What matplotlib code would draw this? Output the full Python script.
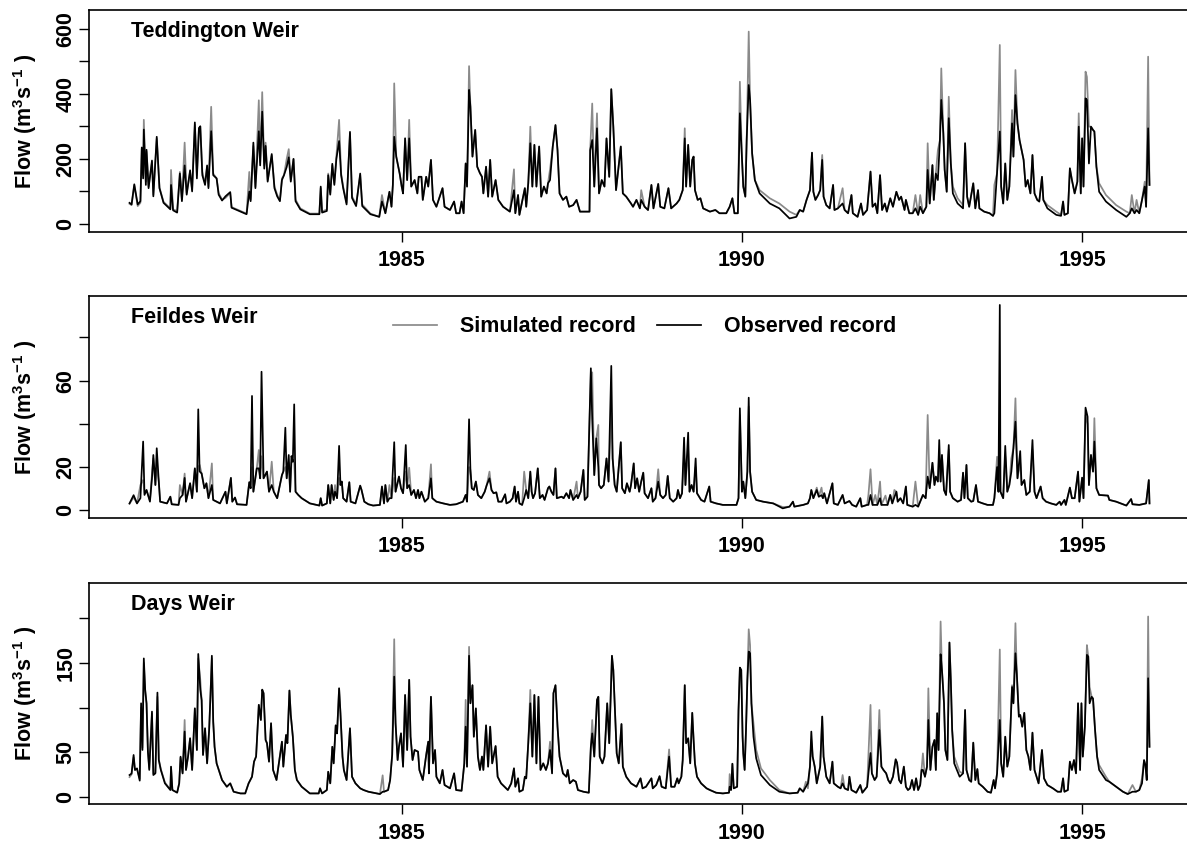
import matplotlib
matplotlib.use("Agg")
import matplotlib.pyplot as plt
import numpy as np

plt.rcParams["font.family"] = "Liberation Sans"
plt.rcParams["font.weight"] = "bold"
plt.rcParams["mathtext.fontset"] = "custom"
plt.rcParams["mathtext.rm"] = "Liberation Sans:bold"
plt.rcParams["mathtext.it"] = "Liberation Sans:bold"
plt.rcParams["mathtext.bf"] = "Liberation Sans:bold"
plt.rcParams["mathtext.default"] = "bf"

# rows: (decimal year, observed flow, simulated flow)
teddington = [
    (1981.00, 65, 62), (1981.03, 60, 58), (1981.07, 122, 118), (1981.12, 60, 55),
    (1981.16, 70, 65), (1981.18, 235, 230), (1981.20, 140, 150), (1981.21, 290, 320),
    (1981.24, 120, 130), (1981.25, 228, 222), (1981.28, 110, 115), (1981.33, 195, 190),
    (1981.35, 85, 90), (1981.40, 268, 262), (1981.44, 110, 112), (1981.50, 65, 68),
    (1981.60, 45, 48), (1981.61, 120, 166), (1981.64, 42, 45), (1981.70, 35, 40),
    (1981.74, 155, 160), (1981.77, 70, 75), (1981.81, 180, 250), (1981.84, 90, 95),
    (1981.89, 165, 160), (1981.92, 100, 105), (1981.96, 312, 305), (1981.99, 140, 150),
    (1982.02, 295, 290), (1982.04, 300, 300), (1982.07, 150, 160), (1982.11, 120, 125),
    (1982.14, 180, 175), (1982.16, 110, 115), (1982.20, 285, 360), (1982.23, 150, 155),
    (1982.28, 140, 140), (1982.31, 90, 95), (1982.36, 72, 75), (1982.41, 85, 80),
    (1982.48, 98, 95), (1982.50, 50, 52), (1982.63, 38, 40), (1982.72, 30, 32),
    (1982.76, 100, 160), (1982.78, 70, 75), (1982.82, 250, 240), (1982.85, 110, 115),
    (1982.90, 285, 380), (1982.92, 180, 190), (1982.95, 345, 405), (1982.98, 170, 180),
    (1983.00, 240, 250), (1983.03, 130, 135), (1983.09, 215, 210), (1983.13, 110, 115),
    (1983.17, 85, 90), (1983.21, 70, 72), (1983.24, 135, 140), (1983.27, 150, 150),
    (1983.31, 175, 200), (1983.34, 205, 230), (1983.37, 130, 135), (1983.41, 200, 200),
    (1983.44, 70, 75), (1983.51, 45, 48), (1983.65, 30, 32), (1983.79, 30, 32),
    (1983.81, 115, 110), (1983.83, 35, 38), (1983.90, 40, 45), (1983.92, 150, 155),
    (1983.95, 90, 95), (1983.98, 185, 180), (1984.01, 120, 125), (1984.04, 200, 210),
    (1984.08, 255, 320), (1984.11, 150, 155), (1984.14, 110, 115), (1984.19, 60, 65),
    (1984.24, 283, 278), (1984.27, 80, 85), (1984.33, 55, 60), (1984.39, 155, 150),
    (1984.42, 55, 60), (1984.54, 30, 32), (1984.67, 22, 22), (1984.71, 69, 89),
    (1984.76, 33, 33), (1984.82, 99, 99), (1984.85, 53, 53), (1984.87, 120, 120),
    (1984.89, 268, 432), (1984.92, 207, 207), (1984.95, 176, 176), (1984.97, 155, 155),
    (1985.00, 115, 115), (1985.02, 94, 94), (1985.05, 263, 263), (1985.08, 135, 135),
    (1985.11, 263, 320), (1985.14, 115, 115), (1985.19, 135, 135), (1985.23, 94, 94),
    (1985.25, 145, 145), (1985.29, 145, 145), (1985.31, 74, 74), (1985.36, 145, 145),
    (1985.39, 115, 115), (1985.43, 197, 197), (1985.46, 74, 74), (1985.51, 53, 53),
    (1985.60, 110, 110), (1985.63, 53, 53), (1985.71, 43, 43), (1985.77, 69, 69),
    (1985.80, 33, 33), (1985.85, 33, 33), (1985.88, 69, 69), (1985.91, 33, 33),
    (1985.94, 186, 186), (1985.96, 115, 115), (1985.99, 412, 485), (1986.01, 360, 360),
    (1986.04, 207, 207), (1986.08, 289, 289), (1986.11, 176, 176), (1986.15, 156, 156),
    (1986.18, 145, 145), (1986.20, 94, 94), (1986.24, 176, 176), (1986.27, 84, 84),
    (1986.30, 197, 197), (1986.33, 84, 84), (1986.38, 135, 135), (1986.42, 74, 74),
    (1986.49, 53, 53), (1986.59, 38, 38), (1986.65, 104, 168), (1986.67, 33, 33),
    (1986.71, 89, 89), (1986.73, 28, 28), (1986.81, 110, 110), (1986.83, 53, 53),
    (1986.86, 125, 125), (1986.89, 248, 299), (1986.92, 115, 115), (1986.95, 243, 243),
    (1986.98, 115, 115), (1987.02, 238, 238), (1987.05, 84, 84), (1987.09, 115, 115),
    (1987.13, 94, 94), (1987.15, 125, 125), (1987.18, 135, 168), (1987.22, 238, 238),
    (1987.26, 304, 304), (1987.29, 227, 227), (1987.32, 94, 94), (1987.37, 74, 74),
    (1987.42, 84, 84), (1987.46, 53, 53), (1987.52, 58, 58), (1987.57, 74, 74),
    (1987.62, 38, 38), (1987.76, 38, 38), (1987.77, 227, 227), (1987.80, 258, 370),
    (1987.83, 115, 115), (1987.87, 294, 340), (1987.90, 94, 94), (1987.94, 135, 135),
    (1987.98, 115, 115), (1988.01, 263, 263), (1988.05, 145, 145), (1988.08, 414, 414),
    (1988.11, 299, 299), (1988.15, 104, 104), (1988.22, 238, 238), (1988.25, 94, 94),
    (1988.30, 84, 84), (1988.37, 63, 63), (1988.40, 53, 53), (1988.45, 74, 74),
    (1988.50, 48, 48), (1988.52, 74, 104), (1988.57, 53, 53), (1988.62, 43, 43),
    (1988.67, 120, 120), (1988.70, 48, 48), (1988.77, 123, 123), (1988.80, 53, 53),
    (1988.86, 48, 48), (1988.92, 110, 110), (1988.96, 48, 48), (1989.04, 63, 63),
    (1989.08, 74, 74), (1989.13, 104, 104), (1989.16, 263, 294), (1989.18, 115, 115),
    (1989.21, 243, 243), (1989.24, 115, 115), (1989.27, 197, 197), (1989.29, 207, 207),
    (1989.31, 104, 104), (1989.35, 74, 74), (1989.39, 79, 79), (1989.43, 48, 48),
    (1989.53, 38, 38), (1989.61, 43, 43), (1989.67, 33, 33), (1989.77, 33, 33),
    (1989.82, 53, 53), (1989.86, 79, 79), (1989.89, 33, 33), (1989.94, 33, 33),
    (1989.97, 340, 437), (1990.00, 207, 207), (1990.02, 115, 115), (1990.05, 84, 84),
    (1990.07, 258, 258), (1990.10, 427, 591), (1990.12, 381, 381), (1990.15, 217, 217),
    (1990.19, 135, 135), (1990.26, 94, 104), (1990.41, 63, 79), (1990.55, 48, 63),
    (1990.70, 17, 38), (1990.80, 22, 28), (1990.85, 43, 43), (1990.90, 38, 38),
    (1990.95, 74, 74), (1991.00, 104, 104), (1991.03, 219, 219), (1991.05, 99, 99),
    (1991.08, 74, 74), (1991.12, 89, 89), (1991.15, 104, 104), (1991.18, 197, 212),
    (1991.20, 84, 84), (1991.24, 58, 58), (1991.29, 48, 48), (1991.34, 120, 120),
    (1991.36, 43, 43), (1991.41, 48, 48), (1991.48, 63, 110), (1991.51, 43, 43),
    (1991.56, 33, 33), (1991.61, 89, 89), (1991.63, 33, 33), (1991.70, 22, 22),
    (1991.75, 63, 63), (1991.78, 28, 28), (1991.84, 43, 43), (1991.89, 161, 161),
    (1991.92, 53, 53), (1991.96, 63, 63), (1991.99, 33, 33), (1992.03, 150, 150),
    (1992.06, 43, 43), (1992.10, 63, 63), (1992.13, 38, 38), (1992.18, 79, 79),
    (1992.22, 53, 53), (1992.27, 99, 99), (1992.31, 74, 74), (1992.34, 84, 84),
    (1992.39, 43, 43), (1992.41, 74, 74), (1992.46, 33, 33), (1992.51, 33, 33),
    (1992.55, 48, 89), (1992.59, 28, 28), (1992.62, 53, 89), (1992.66, 33, 33),
    (1992.71, 53, 53), (1992.73, 166, 248), (1992.76, 63, 63), (1992.80, 181, 181),
    (1992.82, 74, 74), (1992.85, 155, 155), (1992.88, 135, 227), (1992.91, 258, 258),
    (1992.93, 381, 478), (1992.96, 279, 279), (1992.98, 166, 166), (1993.01, 99, 99),
    (1993.04, 325, 391), (1993.07, 186, 186), (1993.10, 94, 115), (1993.17, 63, 79),
    (1993.25, 48, 58), (1993.28, 248, 248), (1993.31, 84, 84), (1993.34, 53, 53),
    (1993.40, 125, 125), (1993.43, 48, 48), (1993.47, 104, 104), (1993.49, 48, 48),
    (1993.56, 38, 38), (1993.64, 33, 33), (1993.69, 25, 25), (1993.71, 33, 120),
    (1993.75, 156, 156), (1993.79, 284, 550), (1993.81, 115, 115), (1993.84, 63, 63),
    (1993.87, 186, 186), (1993.90, 74, 74), (1993.93, 115, 115), (1993.97, 309, 350),
    (1993.99, 207, 207), (1994.02, 396, 473), (1994.05, 309, 309), (1994.08, 258, 258),
    (1994.10, 238, 238), (1994.14, 197, 197), (1994.17, 115, 115), (1994.20, 135, 135),
    (1994.24, 94, 94), (1994.27, 212, 212), (1994.30, 94, 94), (1994.34, 74, 74),
    (1994.37, 69, 69), (1994.41, 145, 145), (1994.43, 74, 74), (1994.49, 48, 58),
    (1994.62, 28, 38), (1994.69, 25, 28), (1994.72, 69, 69), (1994.74, 28, 28),
    (1994.79, 33, 33), (1994.82, 171, 171), (1994.85, 135, 135), (1994.89, 94, 94),
    (1994.93, 130, 130), (1994.95, 299, 340), (1994.98, 94, 94), (1995.00, 263, 263),
    (1995.02, 115, 115), (1995.05, 386, 468), (1995.07, 381, 452), (1995.10, 186, 299),
    (1995.13, 299, 299), (1995.16, 289, 289), (1995.18, 284, 284), (1995.21, 176, 176),
    (1995.25, 99, 125), (1995.35, 69, 89), (1995.50, 43, 58), (1995.65, 22, 38),
    (1995.70, 33, 33), (1995.73, 48, 89), (1995.77, 33, 33), (1995.80, 43, 74),
    (1995.84, 33, 33), (1995.88, 74, 74), (1995.92, 115, 130), (1995.94, 53, 53),
    (1995.97, 294, 514), (1995.99, 120, 120),
]

feildes = [
    (1981.00, 3.2, 3.0), (1981.06, 7.0, 6.0), (1981.11, 3.2, 3.2), (1981.16, 5.6, 11.7),
    (1981.20, 31.8, 14), (1981.22, 7.1, 8), (1981.25, 9.4, 9.4), (1981.30, 4.0, 4.5),
    (1981.33, 14.8, 17), (1981.35, 25.6, 24), (1981.38, 11.7, 11.7), (1981.40, 28.7, 20),
    (1981.43, 13.3, 13.3), (1981.45, 4.0, 4.0), (1981.55, 3.2, 3.2), (1981.60, 6.3, 6.3),
    (1981.62, 2.8, 2.8), (1981.72, 2.5, 2.5), (1981.74, 5.6, 11.7), (1981.78, 7.1, 7.1),
    (1981.81, 15, 17), (1981.83, 4.0, 4.0), (1981.89, 12.5, 12.5), (1981.92, 5.6, 5.6),
    (1981.96, 19.4, 19.4), (1981.99, 8.6, 8.6), (1982.01, 46.7, 20), (1982.03, 18, 21),
    (1982.06, 17, 17), (1982.10, 10.2, 10.2), (1982.13, 12.5, 12.5), (1982.16, 5.6, 5.6),
    (1982.21, 11.7, 21.7), (1982.23, 4.8, 4.8), (1982.33, 3.2, 3.2), (1982.41, 8.6, 8.6),
    (1982.43, 3.2, 3.2), (1982.49, 15, 15), (1982.51, 4.0, 4.0), (1982.55, 5.9, 5.9),
    (1982.58, 2.8, 2.8), (1982.72, 2.5, 2.5), (1982.76, 13, 13), (1982.78, 10.2, 10.2),
    (1982.80, 52.9, 20), (1982.82, 8.6, 8.6), (1982.87, 19.4, 19.4), (1982.90, 19.4, 27.9),
    (1982.92, 14.8, 14.8), (1982.94, 64.1, 25), (1982.97, 14.8, 14.8), (1983.02, 17.9, 17.9),
    (1983.05, 8.6, 8.6), (1983.09, 11.7, 22.5), (1983.12, 8.6, 8.6), (1983.17, 5.6, 5.6),
    (1983.24, 16.3, 16.3), (1983.26, 17.9, 17.9), (1983.29, 38.2, 20), (1983.31, 14.8, 14.8),
    (1983.34, 25.6, 22), (1983.36, 8.6, 8.6), (1983.38, 25.1, 22), (1983.40, 22.5, 22.5),
    (1983.42, 49, 22), (1983.44, 8.6, 8.6), (1983.48, 7.1, 7.1), (1983.53, 5.6, 5.6),
    (1983.65, 3.2, 3.2), (1983.79, 2.2, 2.2), (1983.81, 5.6, 5.6), (1983.83, 2.2, 2.2),
    (1983.90, 3.2, 3.2), (1983.92, 11.7, 11.7), (1983.95, 3.2, 3.2), (1983.97, 11.7, 11.7),
    (1984.00, 4.8, 4.8), (1984.02, 8.6, 11.7), (1984.05, 5.6, 5.6), (1984.08, 29.8, 15),
    (1984.10, 11.7, 11.7), (1984.12, 13.3, 13.3), (1984.14, 5.6, 5.6), (1984.19, 4.0, 4.0),
    (1984.23, 13, 13), (1984.25, 4.0, 4.0), (1984.32, 3.2, 3.2), (1984.39, 11.4, 11.4),
    (1984.41, 9.4, 9.4), (1984.45, 4.0, 4.0), (1984.51, 2.8, 2.8), (1984.58, 2.2, 2.2),
    (1984.68, 2.5, 2.5), (1984.71, 11, 11), (1984.74, 3.2, 3.2), (1984.76, 11.7, 11.7),
    (1984.79, 4.0, 4.0), (1984.82, 5.6, 11.7), (1984.85, 5.6, 5.6), (1984.89, 31.5, 15),
    (1984.91, 8.6, 8.6), (1984.96, 15.6, 15.6), (1984.99, 10.2, 10.2), (1985.02, 7.9, 7.9),
    (1985.06, 30.2, 18), (1985.08, 10.2, 10.2), (1985.11, 11.7, 19.7), (1985.14, 7.1, 7.1),
    (1985.18, 9.4, 9.4), (1985.21, 5.6, 5.6), (1985.24, 9.4, 9.4), (1985.26, 5.6, 5.6),
    (1985.29, 8.6, 8.6), (1985.34, 4.0, 4.0), (1985.39, 5.6, 5.6), (1985.43, 14.8, 21.3),
    (1985.45, 5.6, 5.6), (1985.51, 4.0, 4.0), (1985.61, 3.2, 3.2), (1985.71, 2.5, 2.5),
    (1985.80, 2.8, 2.8), (1985.90, 4.0, 4.0), (1985.94, 7.1, 7.1), (1985.96, 4.0, 4.0),
    (1985.99, 42.1, 20), (1986.01, 18.7, 18.7), (1986.03, 10.2, 10.2), (1986.06, 9.4, 9.4),
    (1986.09, 13.3, 13.3), (1986.12, 7.1, 7.1), (1986.17, 5.6, 5.6), (1986.22, 8.6, 8.6),
    (1986.25, 11.7, 11.7), (1986.29, 14.8, 17.9), (1986.32, 9.4, 9.4), (1986.35, 7.9, 7.9),
    (1986.39, 8.3, 8.3), (1986.42, 4.0, 4.0), (1986.47, 4.0, 4.0), (1986.52, 7.4, 7.4),
    (1986.54, 3.2, 3.2), (1986.59, 4.0, 4.0), (1986.63, 5.6, 5.6), (1986.66, 11, 11),
    (1986.68, 4.0, 4.0), (1986.71, 8.6, 8.6), (1986.73, 3.2, 3.2), (1986.77, 2.5, 2.5),
    (1986.80, 5.6, 17.9), (1986.83, 9.4, 9.4), (1986.86, 5.6, 5.6), (1986.89, 17.9, 17.9),
    (1986.91, 8.6, 8.6), (1986.93, 5.6, 5.6), (1986.96, 7.9, 7.9), (1987.00, 19.4, 19.4),
    (1987.03, 5.6, 5.6), (1987.07, 7.1, 7.1), (1987.10, 4.8, 4.8), (1987.15, 10.2, 10.2),
    (1987.17, 11, 11), (1987.20, 8.6, 8.6), (1987.23, 7.1, 7.1), (1987.26, 19.4, 19.4),
    (1987.28, 5.6, 5.6), (1987.35, 6.3, 6.3), (1987.38, 5.6, 5.6), (1987.42, 7.9, 7.9),
    (1987.46, 5.6, 5.6), (1987.48, 9.4, 9.4), (1987.52, 4.8, 4.8), (1987.57, 7.1, 13.3),
    (1987.59, 5.6, 5.6), (1987.63, 8.6, 8.6), (1987.67, 18.7, 18.7), (1987.69, 4.8, 4.8),
    (1987.73, 6.3, 6.3), (1987.78, 65.7, 63.8), (1987.80, 42.1, 63.8), (1987.83, 16.3, 16.3),
    (1987.86, 33.3, 33.3), (1987.89, 20, 39.5), (1987.90, 11.7, 11.7), (1987.93, 10.2, 10.2),
    (1987.97, 11.7, 11.7), (1988.01, 24, 24), (1988.04, 13.3, 13.3), (1988.08, 66.8, 45),
    (1988.10, 24, 24), (1988.13, 11.7, 11.7), (1988.16, 8.6, 8.6), (1988.22, 31.5, 31.5),
    (1988.24, 10.2, 10.2), (1988.28, 7.9, 7.9), (1988.31, 12.5, 12.5), (1988.35, 8.6, 8.6),
    (1988.37, 11.7, 11.7), (1988.41, 21.7, 21.7), (1988.43, 10.2, 10.2), (1988.46, 14.8, 14.8),
    (1988.49, 8.6, 8.6), (1988.52, 13.3, 13.3), (1988.55, 17.4, 17.4), (1988.57, 7.9, 7.9),
    (1988.62, 5.6, 5.6), (1988.67, 10.2, 10.2), (1988.69, 4.0, 4.0), (1988.73, 5.6, 5.6),
    (1988.77, 13.3, 19), (1988.80, 7.1, 7.1), (1988.84, 5.6, 5.6), (1988.88, 7.1, 7.1),
    (1988.91, 15.9, 15.9), (1988.94, 5.6, 5.6), (1988.99, 4.0, 4.0), (1989.04, 5.6, 5.6),
    (1989.06, 9.4, 9.4), (1989.09, 5.6, 5.6), (1989.12, 7.9, 7.9), (1989.15, 33.6, 25),
    (1989.17, 11.7, 11.7), (1989.21, 35.9, 28), (1989.23, 8.6, 8.6), (1989.26, 11.7, 11.7),
    (1989.29, 8.6, 8.6), (1989.32, 24, 20), (1989.34, 7.9, 7.9), (1989.40, 4.8, 4.8),
    (1989.45, 4.0, 4.0), (1989.52, 11, 11), (1989.54, 4.0, 4.0), (1989.62, 3.2, 3.2),
    (1989.72, 2.5, 2.5), (1989.82, 2.5, 2.5), (1989.92, 2.5, 2.5), (1989.95, 5.6, 5.6),
    (1989.97, 47.2, 44), (1990.00, 8.6, 8.6), (1990.02, 13.3, 13.3), (1990.05, 5.6, 5.6),
    (1990.08, 17.9, 17.9), (1990.10, 52.1, 48), (1990.12, 17.9, 17.9), (1990.15, 8.6, 8.6),
    (1990.21, 4.8, 4.8), (1990.31, 4.0, 4.0), (1990.46, 3.2, 3.2), (1990.60, 0.9, 1.5),
    (1990.70, 1.7, 1.7), (1990.75, 4.0, 4.0), (1990.77, 1.7, 1.7), (1990.90, 2.5, 2.5),
    (1990.97, 3.2, 3.2), (1991.00, 5.6, 5.6), (1991.02, 9.4, 9.4), (1991.05, 5.6, 5.6),
    (1991.10, 9.4, 10.5), (1991.13, 6.3, 6.3), (1991.17, 7.0, 10.5), (1991.19, 5.6, 5.6),
    (1991.21, 7.9, 7.9), (1991.25, 3.2, 3.2), (1991.33, 12.5, 12.5), (1991.35, 3.2, 3.2),
    (1991.41, 2.5, 2.5), (1991.48, 7.1, 7.1), (1991.51, 3.2, 3.2), (1991.58, 4.3, 4.3),
    (1991.62, 2.5, 2.5), (1991.68, 1.7, 1.7), (1991.74, 5.6, 5.6), (1991.76, 1.7, 1.7),
    (1991.84, 2.5, 2.5), (1991.86, 2.5, 7.4), (1991.89, 7.1, 19), (1991.92, 2.5, 2.5),
    (1991.96, 2.5, 7.1), (1991.99, 2.5, 2.5), (1992.03, 5.6, 13.3), (1992.05, 2.5, 2.5),
    (1992.11, 2.5, 6.8), (1992.14, 2.5, 2.5), (1992.18, 7.1, 7.1), (1992.21, 3.2, 3.2),
    (1992.24, 6, 9.4), (1992.27, 8.6, 8.6), (1992.29, 4.0, 4.0), (1992.33, 5.6, 5.6),
    (1992.37, 3.2, 3.2), (1992.41, 11, 11), (1992.43, 2.5, 2.5), (1992.51, 1.7, 1.7),
    (1992.55, 2.5, 13.3), (1992.59, 1.7, 1.7), (1992.62, 4.0, 4.0), (1992.66, 7.1, 7.1),
    (1992.70, 5.6, 5.6), (1992.73, 15.6, 44.1), (1992.76, 10.2, 10.2), (1992.80, 22, 22),
    (1992.83, 11.7, 11.7), (1992.85, 15.6, 15.6), (1992.88, 13.3, 13.3), (1992.90, 32.5, 26),
    (1992.92, 13.3, 13.3), (1992.94, 25.6, 25.6), (1992.97, 9.4, 9.4), (1993.00, 7.1, 7.1),
    (1993.04, 30.2, 28), (1993.06, 8.6, 8.6), (1993.10, 5.6, 5.6), (1993.17, 4.0, 4.0),
    (1993.22, 4.8, 4.8), (1993.25, 17.4, 17.4), (1993.27, 5.6, 5.6), (1993.30, 21, 21),
    (1993.32, 5.6, 5.6), (1993.37, 4.0, 4.0), (1993.40, 4.3, 4.3), (1993.44, 11.7, 11.7),
    (1993.47, 4.0, 4.0), (1993.54, 3.2, 3.2), (1993.61, 2.5, 2.5), (1993.69, 2.5, 2.5),
    (1993.71, 5.6, 5.6), (1993.75, 20, 24.8), (1993.77, 8.6, 8.6), (1993.79, 95, 24),
    (1993.80, 8.6, 8.6), (1993.84, 5.6, 5.6), (1993.87, 29.8, 25), (1993.90, 8.6, 8.6),
    (1993.93, 11.7, 11.7), (1993.96, 17.9, 24), (1993.99, 28.7, 28.7), (1994.02, 41, 51.8),
    (1994.05, 14.8, 14.8), (1994.09, 27.4, 22), (1994.11, 11.7, 11.7), (1994.15, 14, 14),
    (1994.18, 7.1, 7.1), (1994.23, 8.6, 8.6), (1994.27, 32.5, 28), (1994.30, 8.6, 8.6),
    (1994.33, 5.6, 5.6), (1994.39, 11, 11), (1994.42, 5.6, 5.6), (1994.47, 4.0, 4.0),
    (1994.54, 3.2, 3.2), (1994.62, 2.5, 2.5), (1994.67, 4.0, 4.0), (1994.69, 2.5, 2.5),
    (1994.74, 4.8, 4.8), (1994.76, 2.5, 2.5), (1994.82, 10.5, 10.5), (1994.85, 5.6, 5.6),
    (1994.89, 5.6, 5.6), (1994.94, 17.9, 17.9), (1994.96, 4.0, 4.0), (1995.00, 15.1, 15.1),
    (1995.02, 5.6, 5.6), (1995.05, 47.5, 44), (1995.08, 43.3, 40), (1995.10, 11.7, 11.7),
    (1995.13, 25.6, 25.6), (1995.16, 17.9, 17.9), (1995.18, 31.8, 42.6), (1995.21, 10.2, 10.2),
    (1995.25, 7.1, 7.1), (1995.38, 6.8, 6.8), (1995.40, 4.8, 4.8), (1995.50, 4.0, 4.0),
    (1995.65, 2.2, 2.2), (1995.72, 5.2, 5.2), (1995.74, 2.8, 2.8), (1995.84, 2.5, 2.5),
    (1995.94, 3.2, 3.2), (1995.98, 14, 14), (1995.99, 3.2, 3.2),
]

days = [
    (1981.00, 24.3, 22), (1981.03, 26, 25), (1981.06, 46.8, 44), (1981.08, 30, 30),
    (1981.11, 31.8, 31), (1981.15, 18, 20), (1981.17, 104.7, 100), (1981.19, 52.4, 55),
    (1981.21, 155, 150), (1981.23, 120, 118), (1981.25, 104.7, 104), (1981.27, 50.5, 52),
    (1981.29, 30, 32), (1981.33, 95.4, 93), (1981.35, 24.3, 26), (1981.38, 26.2, 27),
    (1981.41, 116.7, 112), (1981.43, 41.1, 42), (1981.46, 30, 31), (1981.52, 15, 16),
    (1981.60, 7.5, 8), (1981.61, 33.7, 33), (1981.63, 7.5, 7.5), (1981.70, 4.5, 5),
    (1981.73, 15, 15), (1981.75, 44.9, 44), (1981.78, 26.2, 26), (1981.81, 73, 86),
    (1981.83, 30, 30), (1981.86, 45, 45), (1981.89, 65.5, 65.5), (1981.92, 30, 30),
    (1981.96, 99, 99), (1981.99, 52.4, 52.4), (1982.01, 160, 155), (1982.04, 120, 131),
    (1982.06, 108, 108), (1982.08, 46.8, 46.8), (1982.11, 76.7, 76.7), (1982.14, 37.4, 37.4),
    (1982.17, 74.8, 74.8), (1982.19, 114, 114), (1982.21, 158, 155), (1982.23, 84, 84),
    (1982.25, 56, 56), (1982.28, 37.4, 37.4), (1982.36, 18.7, 18.7), (1982.43, 11.2, 11.2),
    (1982.48, 15, 15), (1982.53, 5.6, 5.6), (1982.63, 3.7, 3.7), (1982.70, 3.7, 3.7),
    (1982.75, 15, 15), (1982.80, 22.4, 22.4), (1982.83, 39.3, 39.3), (1982.86, 45, 45),
    (1982.90, 103, 103), (1982.93, 86, 86), (1982.95, 120, 120), (1982.97, 116, 116),
    (1983.00, 63.6, 63.6), (1983.02, 60, 60), (1983.05, 39.3, 39.3), (1983.08, 82.3, 82.3),
    (1983.11, 30, 30), (1983.16, 18.7, 18.7), (1983.24, 61.7, 61.7), (1983.26, 33.7, 33.7),
    (1983.30, 69.2, 69.2), (1983.32, 60, 60), (1983.35, 119, 119), (1983.37, 91.6, 91.6),
    (1983.40, 67.3, 67.3), (1983.43, 30, 30), (1983.46, 18.7, 18.7), (1983.53, 11.2, 11.2),
    (1983.65, 3.7, 3.7), (1983.78, 3.7, 3.7), (1983.80, 9.4, 9.4), (1983.83, 3.7, 3.7),
    (1983.90, 7.5, 7.5), (1983.92, 28, 28), (1983.95, 15, 15), (1983.98, 56, 56),
    (1984.00, 37.4, 37.4), (1984.03, 80, 80), (1984.05, 71, 71), (1984.08, 121.5, 121.5),
    (1984.10, 93.5, 93.5), (1984.13, 45, 45), (1984.15, 30, 30), (1984.19, 18.7, 18.7),
    (1984.24, 76.7, 76.7), (1984.27, 22.4, 22.4), (1984.32, 15, 15), (1984.39, 9.4, 9.4),
    (1984.44, 7.5, 7.5), (1984.51, 5.6, 5.6), (1984.68, 3.0, 3.0), (1984.72, 5.6, 24),
    (1984.74, 5.6, 5.6), (1984.80, 7.5, 7.5), (1984.83, 18.7, 18.7), (1984.86, 46.8, 46.8),
    (1984.89, 134.6, 176.5), (1984.91, 82.3, 82.3), (1984.94, 41.1, 41.1), (1984.96, 56, 56),
    (1984.99, 71, 71), (1985.02, 33.7, 33.7), (1985.05, 114, 114), (1985.08, 52.4, 52.4),
    (1985.11, 131, 131), (1985.13, 67.3, 67.3), (1985.16, 41.1, 41.1), (1985.19, 52.4, 52.4),
    (1985.24, 50.5, 50.5), (1985.26, 30, 30), (1985.31, 18.7, 18.7), (1985.36, 46.8, 46.8),
    (1985.39, 61.7, 61.7), (1985.40, 26.2, 26.2), (1985.43, 112, 112), (1985.46, 37.4, 37.4),
    (1985.49, 52.4, 52.4), (1985.51, 22.4, 22.4), (1985.56, 15, 15), (1985.60, 30, 30),
    (1985.63, 13.1, 13.1), (1985.71, 9.4, 9.4), (1985.77, 26.2, 26.2), (1985.80, 7.5, 7.5),
    (1985.88, 6.7, 6.7), (1985.92, 37.4, 37.4), (1985.94, 78.5, 108.5), (1985.96, 33.7, 33.7),
    (1985.99, 158, 168), (1986.01, 104.7, 104.7), (1986.04, 125, 125), (1986.06, 67.3, 67.3),
    (1986.09, 99, 99), (1986.12, 45, 45), (1986.15, 30, 30), (1986.18, 45, 45),
    (1986.20, 30, 30), (1986.24, 80, 80), (1986.27, 33.7, 33.7), (1986.30, 78.5, 78.5),
    (1986.33, 37.4, 37.4), (1986.38, 56.8, 56.8), (1986.41, 22.4, 22.4), (1986.46, 15, 15),
    (1986.56, 7.5, 7.5), (1986.61, 15, 15), (1986.65, 31.8, 31.8), (1986.67, 11.2, 11.2),
    (1986.71, 20.6, 20.6), (1986.73, 5.6, 5.6), (1986.78, 7.5, 7.5), (1986.81, 22.4, 22.4),
    (1986.83, 20.6, 20.6), (1986.86, 60, 60), (1986.89, 104.7, 119.7), (1986.92, 45, 45),
    (1986.95, 114, 114), (1986.98, 37.4, 37.4), (1987.01, 112, 112), (1987.04, 30, 30),
    (1987.08, 37.4, 37.4), (1987.12, 30, 30), (1987.15, 37.4, 37.4), (1987.18, 52.4, 61.7),
    (1987.21, 26.2, 26.2), (1987.23, 116, 116), (1987.26, 125, 125), (1987.29, 78.5, 78.5),
    (1987.32, 45, 45), (1987.37, 26.2, 26.2), (1987.42, 22.4, 22.4), (1987.44, 30, 30),
    (1987.47, 15, 15), (1987.52, 18.7, 18.7), (1987.56, 16.8, 16.8), (1987.59, 7.5, 7.5),
    (1987.67, 5.6, 5.6), (1987.75, 4.5, 4.5), (1987.78, 56, 56), (1987.80, 71, 86),
    (1987.83, 45, 45), (1987.87, 108.5, 108.5), (1987.89, 112, 112), (1987.91, 45, 45),
    (1987.95, 37.4, 37.4), (1987.98, 45, 45), (1988.02, 104.7, 104.7), (1988.05, 60, 60),
    (1988.09, 158, 158), (1988.11, 142, 142), (1988.14, 86, 86), (1988.16, 48.6, 48.6),
    (1988.19, 37.4, 37.4), (1988.23, 81.5, 81.5), (1988.25, 33.7, 33.7), (1988.30, 22.4, 22.4),
    (1988.37, 15, 15), (1988.45, 11.2, 11.2), (1988.51, 20.6, 20.6), (1988.54, 9.4, 9.4),
    (1988.59, 11.2, 11.2), (1988.67, 20.6, 20.6), (1988.69, 9.4, 9.4), (1988.74, 13.1, 13.1),
    (1988.79, 23, 23), (1988.82, 11.2, 11.2), (1988.88, 9.4, 9.4), (1988.93, 45, 53),
    (1988.96, 11.2, 11.2), (1989.01, 11.2, 11.2), (1989.05, 20.6, 20.6), (1989.07, 15, 15),
    (1989.11, 22.4, 22.4), (1989.13, 41.1, 41.1), (1989.16, 125, 125), (1989.18, 60, 60),
    (1989.21, 65.5, 65.5), (1989.24, 37.4, 37.4), (1989.27, 94, 94), (1989.29, 63.6, 63.6),
    (1989.31, 37, 37), (1989.34, 22.4, 22.4), (1989.40, 15, 15), (1989.48, 9.4, 9.4),
    (1989.53, 7.5, 7.5), (1989.62, 4.5, 4.5), (1989.72, 3.7, 3.7), (1989.81, 4.5, 4.5),
    (1989.82, 11.2, 25.4), (1989.84, 7.5, 7.5), (1989.86, 37, 37), (1989.88, 9.4, 9.4),
    (1989.93, 11.2, 11.2), (1989.95, 97, 97), (1989.97, 144.7, 144.7), (1989.99, 142, 142),
    (1990.01, 67.3, 67.3), (1990.02, 48.6, 48.6), (1990.04, 30, 30), (1990.06, 74.8, 74.8),
    (1990.08, 131, 131), (1990.10, 162.7, 187.7), (1990.12, 160.8, 170), (1990.14, 104.7, 104.7),
    (1990.17, 67.3, 82.3), (1990.21, 43, 52.4), (1990.28, 24.3, 31.8), (1990.41, 13.1, 18.7),
    (1990.55, 5.6, 7.5), (1990.70, 3.7, 3.7), (1990.82, 4.5, 4.5), (1990.85, 9.4, 9.4),
    (1990.90, 5.6, 5.6), (1990.94, 11.2, 16.8), (1990.97, 15, 9.4), (1991.00, 33.7, 33.7),
    (1991.02, 73, 63.6), (1991.04, 45, 45), (1991.07, 33.7, 33.7), (1991.10, 15, 15),
    (1991.13, 26.2, 26.2), (1991.15, 33.7, 33.7), (1991.18, 89.8, 89.8), (1991.20, 45, 45),
    (1991.24, 22.4, 22.4), (1991.29, 15, 15), (1991.33, 39.3, 39.3), (1991.35, 15, 15),
    (1991.41, 11.2, 11.2), (1991.45, 9.4, 9.4), (1991.48, 15, 24.3), (1991.51, 9.4, 9.4),
    (1991.56, 7.5, 7.5), (1991.58, 22.4, 22.4), (1991.61, 7.5, 7.5), (1991.68, 4.5, 4.5),
    (1991.74, 13.1, 13.1), (1991.77, 4.5, 4.5), (1991.84, 11.2, 11.2), (1991.89, 49, 102.9),
    (1991.91, 26.2, 26.2), (1991.95, 18.7, 18.7), (1991.98, 22.4, 22.4), (1992.02, 74.8, 97.2),
    (1992.05, 33.7, 33.7), (1992.08, 30, 30), (1992.12, 26.2, 26.2), (1992.15, 18.7, 18.7),
    (1992.18, 15, 15), (1992.22, 22.4, 22.4), (1992.26, 41.9, 41.9), (1992.28, 38, 38),
    (1992.31, 18.7, 18.7), (1992.34, 15, 15), (1992.38, 33.7, 33.7), (1992.41, 11.2, 11.2),
    (1992.44, 7.5, 7.5), (1992.47, 9.4, 9.4), (1992.50, 18.7, 18.7), (1992.53, 7.5, 7.5),
    (1992.56, 20.6, 20.6), (1992.59, 7.5, 7.5), (1992.62, 13.1, 13.1), (1992.64, 30, 30),
    (1992.66, 30, 48.6), (1992.69, 22.4, 22.4), (1992.72, 33.7, 33.7), (1992.74, 86, 121.5),
    (1992.77, 30, 30), (1992.80, 56, 56), (1992.83, 63.6, 63.6), (1992.85, 30, 30),
    (1992.87, 93.5, 93.5), (1992.89, 52.4, 52.4), (1992.92, 159.7, 196.4), (1992.94, 142, 142),
    (1992.97, 104.7, 104.7), (1992.99, 52.4, 52.4), (1993.02, 41.1, 41.1), (1993.05, 172.8, 172.8),
    (1993.07, 131, 131), (1993.09, 74.8, 74.8), (1993.12, 37.4, 45), (1993.20, 22.4, 28),
    (1993.25, 26.2, 26.2), (1993.28, 97.2, 97.2), (1993.30, 30, 30), (1993.34, 18.7, 18.7),
    (1993.37, 16.8, 16.8), (1993.40, 60.6, 60.6), (1993.43, 18.7, 18.7), (1993.46, 31, 31),
    (1993.48, 15, 15), (1993.54, 11.2, 11.2), (1993.61, 5.6, 5.6), (1993.66, 4.5, 4.5),
    (1993.70, 18.7, 18.7), (1993.72, 9.4, 9.4), (1993.75, 26.2, 26.2), (1993.79, 86, 165),
    (1993.81, 37.4, 37.4), (1993.84, 22.4, 22.4), (1993.87, 67.3, 67.3), (1993.90, 33.7, 33.7),
    (1993.93, 45, 45), (1993.97, 123, 125), (1993.99, 104.7, 104.7), (1994.02, 160.8, 194.5),
    (1994.04, 138, 138), (1994.07, 89.8, 89.8), (1994.09, 91.6, 91.6), (1994.12, 78.5, 78.5),
    (1994.15, 94, 94), (1994.18, 52.4, 52.4), (1994.21, 45, 45), (1994.24, 30, 30),
    (1994.27, 71.8, 71.8), (1994.30, 30, 30), (1994.33, 22.4, 22.4), (1994.36, 15, 15),
    (1994.41, 52.4, 52.4), (1994.44, 20.6, 20.6), (1994.49, 13.1, 13.1), (1994.57, 9.4, 9.4),
    (1994.64, 5.6, 5.6), (1994.69, 5.6, 5.6), (1994.72, 20.6, 20.6), (1994.74, 5.6, 5.6),
    (1994.79, 7.5, 7.5), (1994.82, 39.3, 39.3), (1994.85, 30, 30), (1994.88, 41.1, 41.1),
    (1994.91, 26.2, 26.2), (1994.94, 104.7, 104.7), (1994.97, 30, 30), (1994.99, 104.7, 104.7),
    (1995.01, 45, 45), (1995.04, 78.5, 78.5), (1995.07, 159, 170), (1995.09, 157, 157),
    (1995.11, 104.7, 123), (1995.14, 112, 112), (1995.16, 110, 110), (1995.19, 74.8, 74.8),
    (1995.22, 45, 45), (1995.25, 30, 35.5), (1995.35, 18.7, 22.4), (1995.40, 16.8, 16.8),
    (1995.50, 11.2, 11.2), (1995.60, 5.6, 5.6), (1995.67, 3.0, 3.0), (1995.74, 5.6, 13.1),
    (1995.79, 5.6, 5.6), (1995.84, 7.5, 7.5), (1995.88, 15, 20.6), (1995.91, 41, 41),
    (1995.93, 35.5, 35.5), (1995.95, 18.7, 18.7), (1995.97, 132.8, 202), (1995.99, 56, 56),
]

stations = ["Teddington Weir", "Feildes Weir", "Days Weir"]
records = [teddington, feildes, days]
y_ticks = [[0, 100, 200, 300, 400, 500, 600], [0, 20, 40, 60, 80], [0, 50, 100, 150, 200]]
y_tick_labels = [["0", "", "200", "", "400", "", "600"],
                 ["0", "20", "", "60", ""],
                 ["0", "50", "", "150", ""]]
y_limits = [(-24.6, 657.4), (-3.42, 99.0), (-8.5, 239.9)]
x_ticks = [1985, 1990, 1995]
legend_labels = ["Simulated record", "Observed record"]
y_label = r"$\mathbf{Flow\ (m^{3}s^{-1}\ )}$"

W, H = 1187, 850
fig = plt.figure(figsize=(W / 100, H / 100), dpi=100)

# panel boxes in pixels: (top, bottom)
boxes = [(10, 232), (296.3, 517.7), (582.7, 804.3)]
left_px, right_px = 88.7, 1191

axes = []
for i, (top, bottom) in enumerate(boxes):
    ax = fig.add_axes([left_px / W, 1 - bottom / H, (right_px - left_px) / W, (bottom - top) / H])
    t, obs, sim = np.array(records[i], dtype=float).T
    ax.plot(t, sim, color="#8a8a8a", lw=1.25, label=legend_labels[0])
    ax.plot(t, obs, color="black", lw=1.25, label=legend_labels[1])
    ax.set_xlim(1980.4, 1996.6)
    ax.set_ylim(*y_limits[i])
    ax.set_xticks(x_ticks)
    ax.set_xticklabels([str(x) for x in x_ticks])
    ax.set_yticks(y_ticks[i])
    ax.set_yticklabels(y_tick_labels[i])
    for side in ax.spines.values():
        side.set_linewidth(1.2)
    ax.tick_params(axis="both", length=7.2, width=1.0, labelsize=15.5, direction="out")
    ax.tick_params(axis="x", pad=6)
    ax.tick_params(axis="y", pad=1.7, labelrotation=90)
    for lbl in ax.get_yticklabels():
        lbl.set_va("center")
    ax.set_ylabel(y_label, fontsize=15.5)
    ax.yaxis.set_label_coords((38.9 - left_px) / (right_px - left_px), 0.5)
    ax.annotate(stations[i], xy=(0, 1), xycoords="axes fraction",
                xytext=(30.5, -19.4), textcoords="offset points",
                ha="left", va="baseline", fontsize=15.5)
    axes.append(ax)

handles, labels = axes[1].get_legend_handles_labels()
axes[1].legend(handles, labels, loc="center left", ncol=2, frameon=False,
               bbox_to_anchor=(393 / W, 1 - 326.7 / H), bbox_transform=fig.transFigure,
               borderpad=0, borderaxespad=0, handlelength=2.05, handletextpad=1.07,
               columnspacing=0.98, fontsize=15.5)

fig.savefig("out.png", dpi=100)
